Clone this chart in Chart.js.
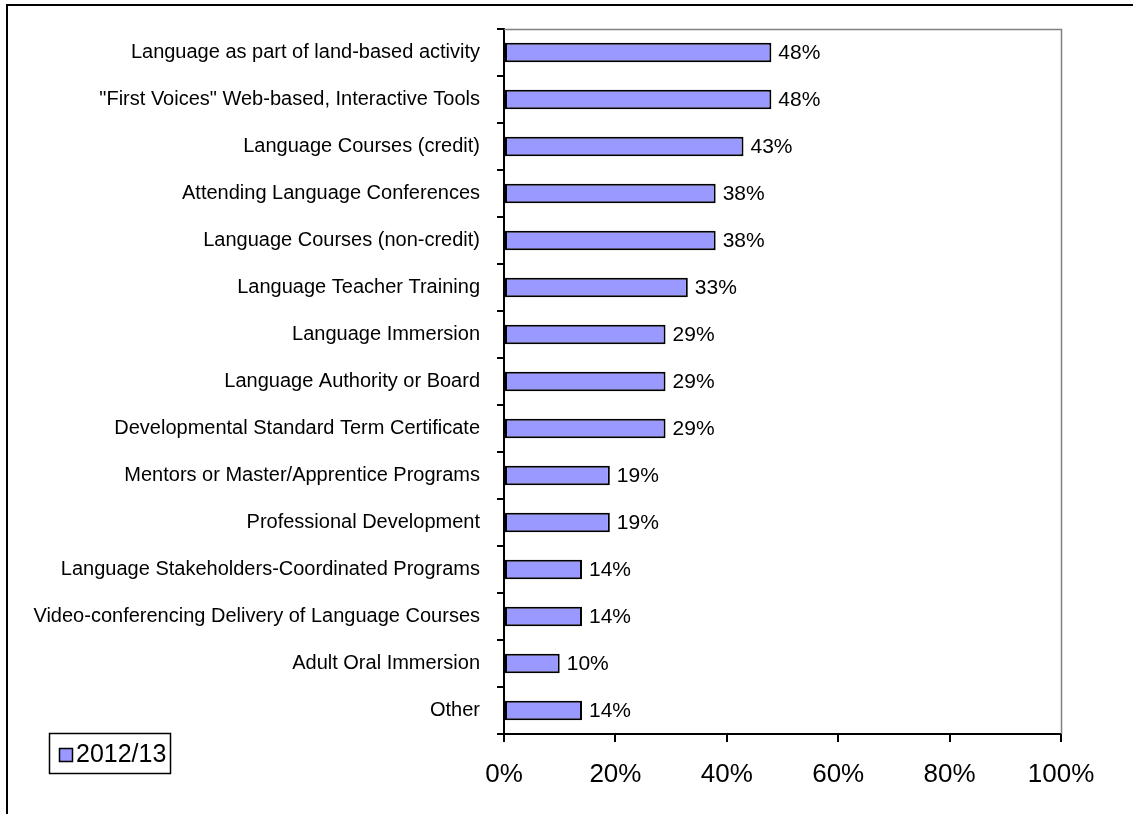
<!DOCTYPE html>
<html>
<head>
<meta charset="utf-8">
<script src="https://cdn.jsdelivr.net/npm/chart.js"></script>
<style>
  body { margin: 0; background: #fff; }
  #wrap { width: 1133px; height: 814px; }
</style>
</head>
<body>
<div id="wrap"><canvas id="myChart" width="1133" height="814"></canvas></div>
<script>
  var categories = [
    "Language as part of land-based activity",
    "\"First Voices\" Web-based, Interactive Tools",
    "Language Courses (credit)",
    "Attending Language Conferences",
    "Language Courses (non-credit)",
    "Language Teacher Training",
    "Language Immersion",
    "Language Authority or Board",
    "Developmental Standard Term Certificate",
    "Mentors or Master/Apprentice Programs",
    "Professional Development",
    "Language Stakeholders-Coordinated Programs",
    "Video-conferencing Delivery of Language Courses",
    "Adult Oral Immersion",
    "Other"
  ];
  var values2012 = [48, 48, 43, 38, 38, 33, 29, 29, 29, 19, 19, 14, 14, 10, 14];
  var seriesName = "2012/13";
  var xTicks = [0, 20, 40, 60, 80, 100];

  var FONT = "'Liberation Sans', Arial, sans-serif";

  // percent labels at the end of each bar
  var valueLabels = {
    id: "valueLabels",
    afterDatasetsDraw: function(chart) {
      var ctx = chart.ctx;
      var meta = chart.getDatasetMeta(0);
      ctx.save();
      ctx.font = "21px " + FONT;
      ctx.fillStyle = "#000";
      ctx.textBaseline = "middle";
      ctx.textAlign = "left";
      meta.data.forEach(function(bar, i) {
        ctx.fillText(chart.data.datasets[0].data[i] + "%", bar.x + 7, bar.y + 1);
      });
      ctx.restore();
    }
  };

  // grey top/right edges of the plot area, outer frame and the boxed legend
  var frame = {
    id: "frame",
    beforeDatasetsDraw: function(chart) {
      var ctx = chart.ctx, a = chart.chartArea;
      ctx.save();
      ctx.strokeStyle = "#808080";
      ctx.lineWidth = 1.5;
      ctx.beginPath();
      ctx.moveTo(a.left, a.top + 0.5);
      ctx.lineTo(a.right + 0.5, a.top + 0.5);
      ctx.lineTo(a.right + 0.5, a.bottom);
      ctx.stroke();
      ctx.restore();
    },
    afterDraw: function(chart) {
      var ctx = chart.ctx;
      var ds = chart.data.datasets[0];
      ctx.save();
      ctx.fillStyle = "#000";
      ctx.fillRect(6, 4, 1127, 2);
      ctx.fillRect(6, 4, 2, 810);

      ctx.strokeStyle = "#000";
      ctx.lineWidth = 1.5;
      ctx.fillStyle = "#fff";
      ctx.fillRect(49.5, 733.5, 121, 40);
      ctx.strokeRect(49.5, 733.5, 121, 40);
      ctx.fillStyle = ds.backgroundColor;
      ctx.fillRect(59.5, 748.5, 13, 13);
      ctx.strokeRect(59.5, 748.5, 13, 13);
      ctx.fillStyle = "#000";
      ctx.font = "25px " + FONT;
      ctx.textBaseline = "middle";
      ctx.fillText(ds.label, 76, 755);
      ctx.restore();
    }
  };

  var ctx = document.getElementById("myChart").getContext("2d");
  var chart = new Chart(ctx, {
    type: "bar",
    data: {
      labels: categories,
      datasets: [{
        label: seriesName,
        data: values2012,
        backgroundColor: "#9999FF",
        borderColor: "#000",
        borderWidth: 2,
        borderSkipped: false,
        categoryPercentage: 1.0,
        barPercentage: 0.41
      }]
    },
    options: {
      indexAxis: "y",
      responsive: false,
      animation: false,
      layout: { padding: { top: 22, right: 72, left: 0, bottom: 0 } },
      plugins: {
        legend: { display: false },
        tooltip: { enabled: false }
      },
      scales: {
        x: {
          min: 0,
          max: 100,
          afterBuildTicks: function(scale) {
            scale.ticks = xTicks.map(function(v) { return { value: v }; });
          },
          afterFit: function(scale) { scale.height = 80; },
          grid: {
            drawOnChartArea: false,
            color: "#000",
            lineWidth: 2,
            tickLength: 8
          },
          border: { color: "#000", width: 2 },
          ticks: {
            color: "#000",
            font: { family: FONT, size: 26 },
            padding: 17,
            maxRotation: 0,
            callback: function(v) { return v + "%"; }
          }
        },
        y: {
          afterFit: function(scale) { scale.width = 504; },
          grid: {
            drawOnChartArea: false,
            offset: true,
            color: "#000",
            lineWidth: 2,
            tickLength: 7
          },
          border: { color: "#000", width: 2 },
          ticks: {
            color: "#000",
            font: { family: FONT, size: 20 },
            padding: 17,
            autoSkip: false
          }
        }
      }
    },
    plugins: [valueLabels, frame]
  });
</script>
</body>
</html>
